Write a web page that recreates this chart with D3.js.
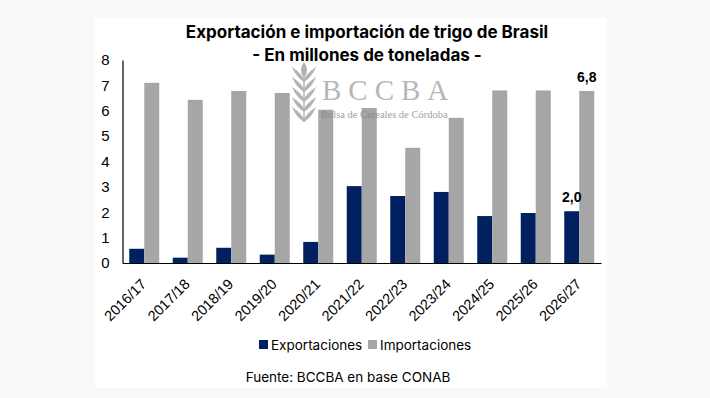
<!DOCTYPE html>
<html>
<head>
<meta charset="utf-8">
<script src="https://cdn.jsdelivr.net/npm/d3@7"></script>
<style>
  body { margin: 0; background: #f9f9f9; }
  svg { display: block; }
</style>
</head>
<body>
<svg id="chart" width="710" height="398"></svg>
<script>
// campaigns on the x axis
const campaigns = ["2016/17", "2017/18", "2018/19", "2019/20", "2020/21", "2021/22",
                   "2022/23", "2023/24", "2024/25", "2025/26", "2026/27"];
// millions of tonnes
const exportaciones = [0.56, 0.21, 0.60, 0.33, 0.83, 3.03, 2.64, 2.80, 1.85, 1.97, 2.04];
const importaciones = [7.10, 6.43, 6.78, 6.70, 6.04, 6.11, 4.54, 5.72, 6.80, 6.80, 6.78];
const seriesNames = ["Exportaciones", "Importaciones"];
const yTicks = [0, 1, 2, 3, 4, 5, 6, 7, 8];

const colors = { Exportaciones: "#002060", Importaciones: "#a6a6a6" };

const svg = d3.select("#chart");

// white panel
svg.append("rect")
    .attr("x", 95).attr("y", 18)
    .attr("width", 512).attr("height", 370)
    .attr("fill", "#ffffff");

// scales
const x = d3.scaleBand().domain(campaigns).range([122.5, 601]).padding(0);
const xSub = d3.scaleBand().domain(seriesNames).range([0, x.bandwidth()])
    .paddingInner(0).paddingOuter(0.45);
const y = d3.scaleLinear().domain([0, 8]).range([263, 60]);

// bars
const rows = campaigns.map((c, i) => ({ c, Exportaciones: exportaciones[i], Importaciones: importaciones[i] }));

svg.append("g")
  .selectAll("g")
  .data(rows)
  .join("g")
    .attr("transform", d => `translate(${x(d.c)},0)`)
  .selectAll("rect")
  .data(d => seriesNames.map(s => ({ s, v: d[s] })))
  .join("rect")
    .attr("x", d => xSub(d.s))
    .attr("width", xSub.bandwidth())
    .attr("y", d => y(d.v))
    .attr("height", d => y(0) - y(d.v))
    .attr("fill", d => colors[d.s]);

// data labels on last campaign
const fmt = v => d3.format(".1f")(v).replace(".", ",");
const last = rows[rows.length - 1];
svg.append("g")
  .selectAll("text")
  .data(seriesNames)
  .join("text")
    .attr("x", s => x(last.c) + xSub(s) + xSub.bandwidth() / 2)
    .attr("y", s => y(last[s]) - 9)
    .attr("text-anchor", "middle")
    .attr("font-family", "Liberation Sans, Arial, sans-serif")
    .attr("font-size", 14)
    .attr("font-weight", "bold")
    .attr("fill", "#000")
    .text(s => fmt(last[s]));

// y axis
const yAxis = svg.append("g")
    .attr("transform", "translate(122.5,0)")
    .call(d3.axisLeft(y).tickValues(yTicks).tickSize(0).tickPadding(13).tickFormat(d3.format("d")));
yAxis.select(".domain").attr("stroke", "#000").attr("stroke-width", 1.2);
yAxis.selectAll("text")
    .attr("font-family", "Liberation Sans, Arial, sans-serif")
    .attr("font-size", 15)
    .attr("fill", "#000");

// x axis
const xAxis = svg.append("g")
    .attr("transform", `translate(0,${y(0)})`)
    .call(d3.axisBottom(x).tickSize(0).tickPadding(0));
xAxis.select(".domain").attr("stroke", "#000").attr("stroke-width", 1.2);
xAxis.selectAll("text")
    .attr("font-family", "Liberation Sans, Arial, sans-serif")
    .attr("font-size", 14.5)
    .attr("fill", "#000")
    .attr("text-anchor", "end")
    .attr("dy", 0)
    .attr("transform", "translate(3,22) rotate(-45)");

// title
const title = svg.append("g")
    .attr("font-family", "Inter, Noto Sans, sans-serif")
    .attr("font-weight", "bold")
    .attr("font-size", 17)
    .attr("text-anchor", "middle")
    .attr("fill", "#000");
title.append("text").attr("x", 367).attr("y", 38).text("Exportación e importación de trigo de Brasil");
title.append("text").attr("x", 367).attr("y", 61).text("- En millones de toneladas -");

// watermark
const wm = svg.append("g").attr("opacity", 0.75).attr("fill", "#9a9a9a");
const leafYs = [74, 84, 94, 104, 114];
leafYs.forEach(ly => {
  wm.append("path")
    .attr("d", `M304,${ly + 8} Q296,${ly + 3} 292,${ly - 7} Q301,${ly - 1} 304,${ly + 5} Z`);
  wm.append("path")
    .attr("d", `M304,${ly + 8} Q312,${ly + 3} 316,${ly - 7} Q307,${ly - 1} 304,${ly + 5} Z`);
});
wm.append("path").attr("d", "M304,62 Q298,70 304,78 Q310,70 304,62 Z");
wm.append("rect").attr("x", 303.3).attr("y", 76).attr("width", 1.4).attr("height", 46);
wm.append("text")
    .attr("x", 322).attr("y", 100)
    .attr("font-family", "Liberation Serif, DejaVu Serif, serif")
    .attr("font-size", 29)
    .attr("letter-spacing", 7)
    .attr("fill", "#a0a0a0")
    .text("BCCBA");
wm.append("text")
    .attr("x", 321).attr("y", 118)
    .attr("font-family", "Liberation Serif, DejaVu Serif, serif")
    .attr("font-size", 10.5)
    .attr("fill", "#808080")
    .text("Bolsa de Cereales de Córdoba");

// legend
const legend = svg.append("g")
    .attr("font-family", "Inter, Noto Sans, sans-serif")
    .attr("font-size", 13.5)
    .attr("fill", "#000");
const legendX = [259, 368];
seriesNames.forEach((s, i) => {
  legend.append("rect")
    .attr("x", legendX[i]).attr("y", 340)
    .attr("width", 9).attr("height", 9)
    .attr("fill", colors[s]);
  legend.append("text")
    .attr("x", legendX[i] + 12).attr("y", 349.5)
    .text(s);
});

// source
svg.append("text")
    .attr("x", 348).attr("y", 382)
    .attr("text-anchor", "middle")
    .attr("font-family", "Inter, Noto Sans, sans-serif")
    .attr("font-size", 13.5)
    .attr("fill", "#000")
    .text("Fuente: BCCBA en base CONAB");
</script>
</body>
</html>
